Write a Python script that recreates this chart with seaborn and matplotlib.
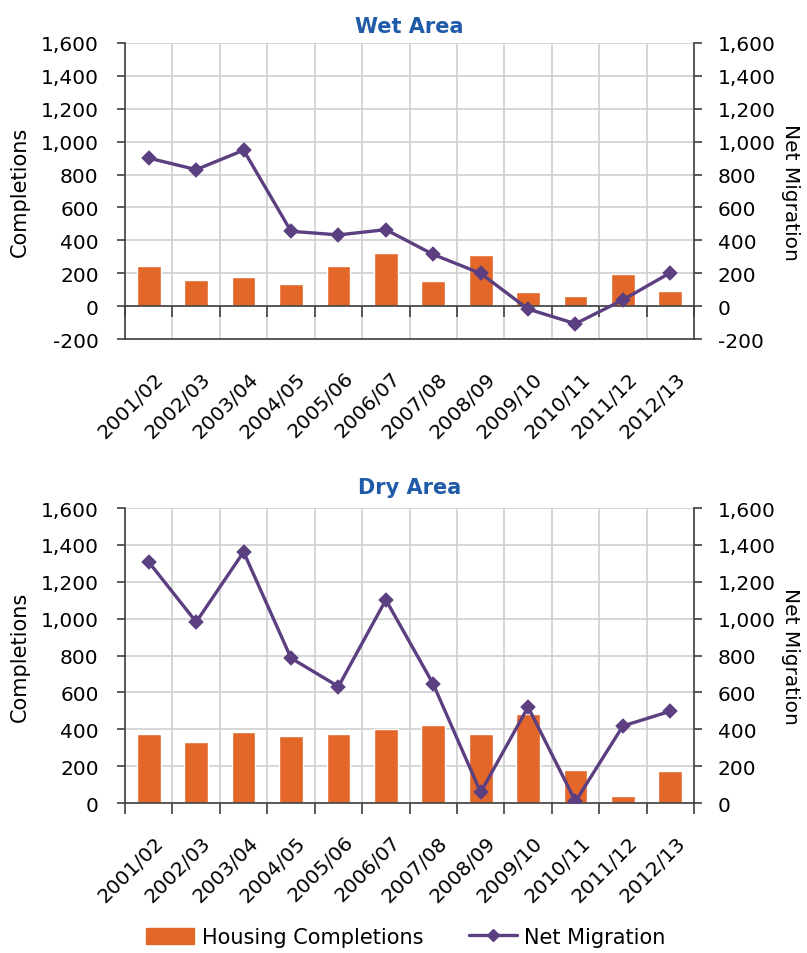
import numpy as np
import pandas as pd
import seaborn as sns
import matplotlib.pyplot as plt
from matplotlib.transforms import ScaledTranslation
from matplotlib.ticker import FuncFormatter, FixedLocator

# --------------------
# Data
# --------------------
years = ["2001/02", "2002/03", "2003/04", "2004/05", "2005/06", "2006/07",
         "2007/08", "2008/09", "2009/10", "2010/11", "2011/12", "2012/13"]

wet_completions = [241, 160, 174, 137, 241, 326, 153, 310, 83, 61, 198, 92]
wet_migration = [900, 830, 948, 455, 433, 465, 314, 199, -18, -107, 38, 203]

dry_completions = [375, 331, 387, 362, 376, 400, 424, 376, 483, 180, 40, 175]
dry_migration = [1307, 982, 1362, 786, 632, 1102, 645, 58, 521, 9, 418, 498]

BAR_COLOR = "#E4672A"
LINE_COLOR = "#5B3F80"
TITLE_COLOR = "#1F5BA8"
SPINE_COLOR = "#404040"
GRID_COLOR = "#CFCFCF"

sns.set_theme(style="white")
plt.rcParams["font.family"] = ["DejaVu Sans"]
plt.rcParams["text.color"] = "black"
plt.rcParams["axes.labelcolor"] = "black"
plt.rcParams["xtick.labelcolor"] = "black"
plt.rcParams["ytick.labelcolor"] = "black"

thousands = FuncFormatter(lambda v, _: f"{int(v):,}")


def draw_panel(ax, title, completions, migration, ymin, title_pad):
    df = pd.DataFrame({"year": years, "completions": completions,
                       "migration": migration})
    sns.barplot(data=df, x="year", y="completions", color=BAR_COLOR,
                saturation=1, width=0.5, ax=ax, zorder=2)

    ax2 = ax.twinx()
    sns.pointplot(data=df, x="year", y="migration", color=LINE_COLOR,
                  markers="D", markersize=6.5, linewidth=2.4, errorbar=None,
                  ax=ax2)

    for a in (ax, ax2):
        a.set_ylim(ymin, 1600)
        a.yaxis.set_major_locator(FixedLocator(np.arange(ymin, 1601, 200)))
        a.yaxis.set_major_formatter(thousands)
        a.set_xlim(-0.5, len(years) - 0.5)
        for s in a.spines.values():
            s.set_visible(False)
    ax2.set_xlabel("")

    # category boundaries for vertical grid and tick marks
    bounds = np.arange(len(years) + 1) - 0.5
    ax.set_xticks(range(len(years)))
    ax.set_xticklabels(years, rotation=45, ha="right", va="top",
                       rotation_mode="anchor", fontsize=14.5)
    ax.set_xticks(bounds, minor=True)
    ax.tick_params(axis="x", which="major", length=0, pad=21)
    shift = ScaledTranslation(5 / 100, 0, ax.figure.dpi_scale_trans)
    for lab in ax.get_xticklabels():
        lab.set_transform(lab.get_transform() + shift)

    ax.set_axisbelow(True)
    ax.grid(axis="y", which="major", color=GRID_COLOR, linewidth=1.2)
    ax.grid(axis="x", which="minor", color=GRID_COLOR, linewidth=1.2)
    ax.grid(axis="x", which="major", visible=False)

    ax.spines["left"].set_visible(True)
    ax.spines["bottom"].set_visible(True)
    ax2.spines["right"].set_visible(True)
    for s in (ax.spines["left"], ax.spines["bottom"], ax2.spines["right"]):
        s.set_color(SPINE_COLOR)
        s.set_linewidth(1.2)

    ax.tick_params(axis="y", which="major", left=True, length=6, width=1.2,
                   color=SPINE_COLOR, pad=13, labelsize=14.5)
    ax2.tick_params(axis="y", which="major", right=True, length=6, width=1.2,
                    color=SPINE_COLOR, pad=11, labelsize=14.5)

    if ymin < 0:
        # x-axis line crosses at zero, tick marks drawn there
        ax.tick_params(axis="x", which="minor", length=0)
        zero = ax.secondary_xaxis(-ymin / (1600 - ymin))
        zero.set_xticks(bounds)
        zero.set_xticklabels([])
        zero.tick_params(axis="x", which="major", bottom=True, length=8,
                         width=1.2, color=SPINE_COLOR, direction="out")
        zero.spines["bottom"].set_visible(True)
        zero.spines["bottom"].set_color(SPINE_COLOR)
        zero.spines["bottom"].set_linewidth(1.2)
        zero.set_zorder(5)
    else:
        ax.tick_params(axis="x", which="minor", bottom=True, length=8,
                       width=1.2, color=SPINE_COLOR)

    ax.set_xlabel("")
    ax.set_ylabel("Completions", fontsize=15, labelpad=8)
    ax2.set_ylabel("Net Migration", fontsize=14.5, rotation=270, va="bottom",
                   labelpad=4)
    ax.set_title(title, color=TITLE_COLOR, fontweight="bold", fontsize=15,
                 pad=title_pad)
    return ax2


fig = plt.figure(figsize=(8.07, 9.54), dpi=100)
ax_wet = fig.add_axes([0.155, 0.6436, 0.705, 0.3103])
ax_dry = fig.add_axes([0.155, 0.1572, 0.705, 0.3092])

draw_panel(ax_wet, "Wet Area", wet_completions, wet_migration, -200, 8)
draw_panel(ax_dry, "Dry Area", dry_completions, dry_migration, 0, 11)

# --------------------
# Shared legend
# --------------------
handles = [
    plt.Rectangle((0, 0), 1, 1, color=BAR_COLOR),
    plt.Line2D([], [], color=LINE_COLOR, marker="D", markersize=6,
               linewidth=2.4),
]
fig.legend(handles, ["Housing Completions", "Net Migration"], loc="center",
           bbox_to_anchor=(0.503, 0.017), ncol=2, frameon=False, fontsize=15,
           handlelength=2.3, handleheight=0.8, handletextpad=0.35,
           columnspacing=2.2)

fig.savefig("out.png", dpi=100)
